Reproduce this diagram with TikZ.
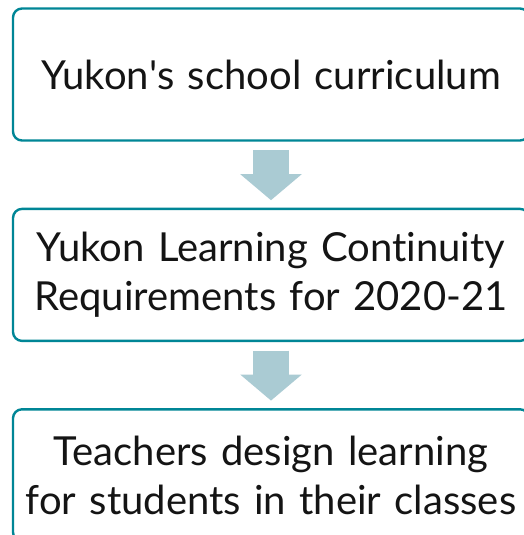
\documentclass[tikz,border=0pt]{standalone}
\usepackage{fontspec}
\setmainfont{Lato}[Ligatures={NoCommon,NoContextual}]
\usepackage{tikz}
\usetikzlibrary{arrows.meta,positioning,calc}
\definecolor{boxTeal}{RGB}{0,134,150}
\definecolor{flowGrey}{RGB}{170,203,211}
\definecolor{inkDark}{RGB}{20,20,20}

\begin{document}
\begin{tikzpicture}[x=1pt,y=1pt,
        stepbox/.style={draw=boxTeal, fill=white, line width=2.4pt,
          rounded corners=9pt, minimum width=516pt, minimum height=132pt,
          text width=510pt, align=center, text=inkDark,
          font=\fontsize{40}{49}\selectfont, inner sep=0pt},
        flow/.style={draw=flowGrey, line width=36pt,
          -{Triangle[length=26pt,width=60pt]},
          shorten <=8.5pt, shorten >=7.5pt},
        node distance=66pt
      ]
        \clip (0,0) rectangle (524,-535);
        \fill[white] (0,0) rectangle (524,-535);
        \node[stepbox] (curr) at (271,-74.5) {Yukon\textquotesingle s school curriculum};
        \node[stepbox, below=of curr] (req) {Yukon Learning Continuity\\Requirements for 2020-21};
        \node[stepbox, below=of req] (teach) {Teachers design learning\\for students in their classes};
        \draw[flow] (curr) -- (req);
        \draw[flow] (req) -- (teach);
      \end{tikzpicture}
\end{document}
